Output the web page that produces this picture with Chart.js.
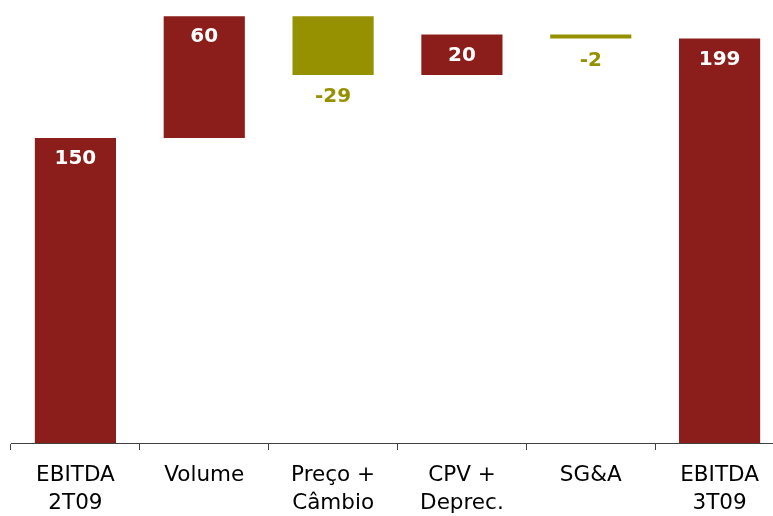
<!DOCTYPE html>
<html lang="en">
<head>
<meta charset="utf-8">
<meta name="viewport" content="width=device-width, initial-scale=1">
<title>EBITDA 2T09 x 3T09</title>
<style>
html, body { margin: 0; padding: 0; overflow: hidden; background: #fff; }
</style>
</head>
<body>
<div style="width: 784px; height: 516px">
<canvas id="canvas"></canvas>
</div>
<script src="https://cdn.jsdelivr.net/npm/chart.js"></script>
<script>

let CATEGORIES = [["EBITDA", "2T09"], ["Volume"], ["Preço +", "Câmbio"], ["CPV +", "Deprec."], ["SG&A"], ["EBITDA", "3T09"]]
let VALUES = [150, 60, -29, 20, -2, 199]
let TOTALS = [true, false, false, false, false, true]

let RED = "#8B1E1A"
let OLIVE = "#969100"

// floating bars: totals start at zero, steps start where the last one ended
let running = 0
let ranges = VALUES.map((v, i) => {
    if (TOTALS[i]) {
        running = v
        return [0, v]
    }
    let r = [running, running + v]
    running += v
    return r
})

let valueLabels = {
    id: "valueLabels",
    afterDatasetsDraw(chart) {
        let c = chart.ctx
        let meta = chart.getDatasetMeta(0)
        c.save()
        c.font = "bold 20px 'DejaVu Sans'"
        c.textAlign = "center"
        c.textBaseline = "middle"
        meta.data.forEach((bar, i) => {
            let v = VALUES[i]
            let top = Math.min(bar.y, bar.base)
            let bottom = Math.max(bar.y, bar.base)
            if (v >= 0) {
                c.fillStyle = "#fff"
                c.fillText(String(v), bar.x, top + 21)
            } else {
                c.fillStyle = OLIVE
                c.fillText(String(v), bar.x, bottom + 22)
            }
        })
        c.restore()
    }
}

let ctx = document.getElementById("canvas")

new Chart(ctx, {
    type: "bar",
    data: {
        labels: CATEGORIES,
        datasets: [{
            data: ranges,
            backgroundColor: VALUES.map(v => v < 0 ? OLIVE : RED),
            borderWidth: 0,
            categoryPercentage: 1,
            barPercentage: 0.63,
        }]
    },
    options: {
        responsive: true,
        maintainAspectRatio: false,
        animation: false,
        layout: { padding: { left: 11, right: 0, top: 6, bottom: 0 } },
        plugins: {
            legend: { display: false },
            tooltip: { enabled: false },
        },
        scales: {
            x: {
                afterFit: (scale) => { scale.height = 73 },
                border: { color: "#404040", width: 1 },
                grid: { drawOnChartArea: false, drawTicks: true, tickLength: 7, color: "#404040", offset: true },
                ticks: {
                    color: "#000",
                    font: { family: "'DejaVu Sans'", size: 21.5, lineHeight: 1.27 },
                    padding: 12,
                    maxRotation: 0,
                    autoSkip: false,
                },
            },
            y: {
                display: false,
                min: 0,
                max: 215,
            }
        }
    },
    plugins: [valueLabels],
})

</script>
</body>
</html>
